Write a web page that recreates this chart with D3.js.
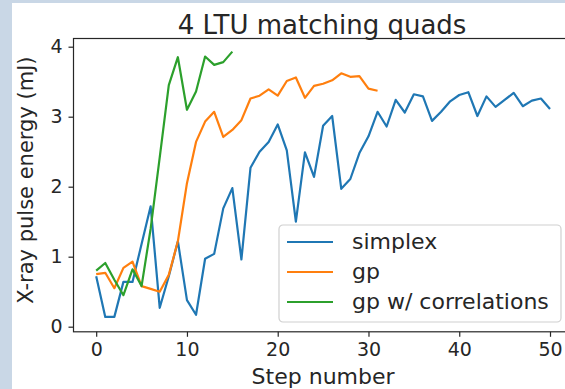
<!DOCTYPE html>
<html>
<head>
<meta charset="utf-8">
<script src="https://cdn.jsdelivr.net/npm/d3@7"></script>
<style>
  html, body { margin: 0; padding: 0; background: #c9d7e6; }
  svg { display: block; font-family: "DejaVu Sans", sans-serif; }
</style>
</head>
<body>
<svg id="chart" width="565" height="389"></svg>
<script>
// Pulse energy per optimizer step for each tuning method
const simplex = [0.72, 0.14, 0.14, 0.64, 0.64, 1.18, 1.72, 0.27, 0.72, 1.22,
                 0.38, 0.17, 0.97, 1.04, 1.69, 1.98, 0.96, 2.27, 2.50, 2.64,
                 2.89, 2.52, 1.50, 2.49, 2.14, 2.87, 3.01, 1.97, 2.11, 2.48,
                 2.72, 3.07, 2.86, 3.24, 3.06, 3.32, 3.29, 2.94, 3.07, 3.22,
                 3.31, 3.35, 3.01, 3.29, 3.14, 3.24, 3.34, 3.15, 3.23, 3.26, 3.11];
const gp = [0.75, 0.77, 0.55, 0.84, 0.93, 0.58, 0.54, 0.50, 0.74, 1.22,
            2.05, 2.64, 2.93, 3.07, 2.71, 2.81, 2.95, 3.26, 3.30, 3.39,
            3.30, 3.51, 3.56, 3.27, 3.44, 3.47, 3.52, 3.62, 3.57, 3.58,
            3.40, 3.37];
const gpCorr = [0.80, 0.91, 0.67, 0.45, 0.82, 0.58, 1.40, 2.42, 3.45, 3.85,
                3.10, 3.36, 3.86, 3.74, 3.78, 3.93];

const seriesNames = ["simplex", "gp", "gp w/ correlations"];
const seriesColors = ["#1f77b4", "#ff7f0e", "#2ca02c"];
const xTicks = [0, 10, 20, 30, 40, 50];
const yTicks = [0, 1, 2, 3, 4];

const title = "4 LTU matching quads";
const xLabel = "Step number";
const yLabel = "X-ray pulse energy (mJ)";

const svg = d3.select("#chart");

// page panel
svg.append("rect").attr("x", 12).attr("y", 3).attr("width", 565).attr("height", 389).attr("fill", "#ffffff");

const plotLeft = 73.5, plotRight = 572.7, plotTop = 38.5, plotBottom = 331.8;
const x = d3.scaleLinear().domain([-2.5, 52.5]).range([plotLeft, plotRight]);
const y = d3.scaleLinear().domain([-0.073, 4.1171]).range([plotBottom, plotTop]);

const series = [simplex, gp, gpCorr];

// lines
const line = d3.line().x((d, i) => x(i)).y(d => y(d));
series.forEach((s, k) => {
  svg.append("path")
    .datum(s)
    .attr("d", line)
    .attr("fill", "none")
    .attr("stroke", seriesColors[k])
    .attr("stroke-width", 2.2)
    .attr("stroke-linejoin", "round")
    .attr("stroke-linecap", "butt");
});

// frame
svg.append("rect")
  .attr("x", plotLeft).attr("y", plotTop)
  .attr("width", plotRight - plotLeft).attr("height", plotBottom - plotTop)
  .attr("fill", "none").attr("stroke", "#262626").attr("stroke-width", 1.2);

// axes
const xAxis = d3.axisBottom(x).tickValues(xTicks).tickFormat(d3.format("d")).tickSize(5).tickPadding(6);
const yAxis = d3.axisLeft(y).tickValues(yTicks).tickFormat(d3.format("d")).tickSize(5).tickPadding(6);

const gx = svg.append("g").attr("transform", `translate(0,${plotBottom})`).call(xAxis);
const gy = svg.append("g").attr("transform", `translate(${plotLeft},0)`).call(yAxis);
[gx, gy].forEach(g => {
  g.select(".domain").remove();
  g.selectAll(".tick line").attr("stroke", "#262626").attr("stroke-width", 1.2);
  g.selectAll(".tick text")
    .attr("fill", "#262626")
    .style("font-family", "DejaVu Sans, sans-serif")
    .style("font-size", "19px");
});

// title and axis labels
svg.append("text")
  .attr("x", (plotLeft + plotRight) / 2 - 1).attr("y", 34)
  .attr("text-anchor", "middle")
  .attr("fill", "#262626")
  .style("font-size", "26px")
  .text(title);

svg.append("text")
  .attr("x", (plotLeft + plotRight) / 2).attr("y", 384)
  .attr("text-anchor", "middle")
  .attr("fill", "#262626")
  .style("font-size", "22px")
  .text(xLabel);

svg.append("text")
  .attr("transform", `translate(33,${(plotTop + plotBottom) / 2 - 5}) rotate(-90)`)
  .attr("text-anchor", "middle")
  .attr("fill", "#262626")
  .style("font-size", "21px")
  .text(yLabel);

// legend
const legend = svg.append("g").attr("transform", "translate(279,225)");
legend.append("rect")
  .attr("width", 282).attr("height", 97).attr("rx", 4)
  .attr("fill", "#ffffff").attr("fill-opacity", 0.8)
  .attr("stroke", "#d0d0d0").attr("stroke-width", 1.2);
seriesNames.forEach((name, k) => {
  const ry = 17 + k * 30;
  legend.append("line")
    .attr("x1", 8).attr("x2", 54).attr("y1", ry).attr("y2", ry)
    .attr("stroke", seriesColors[k]).attr("stroke-width", 2.2);
  legend.append("text")
    .attr("x", 73).attr("y", ry + 7)
    .attr("fill", "#262626")
    .style("font-size", "22px")
    .text(name);
});
</script>
</body>
</html>
